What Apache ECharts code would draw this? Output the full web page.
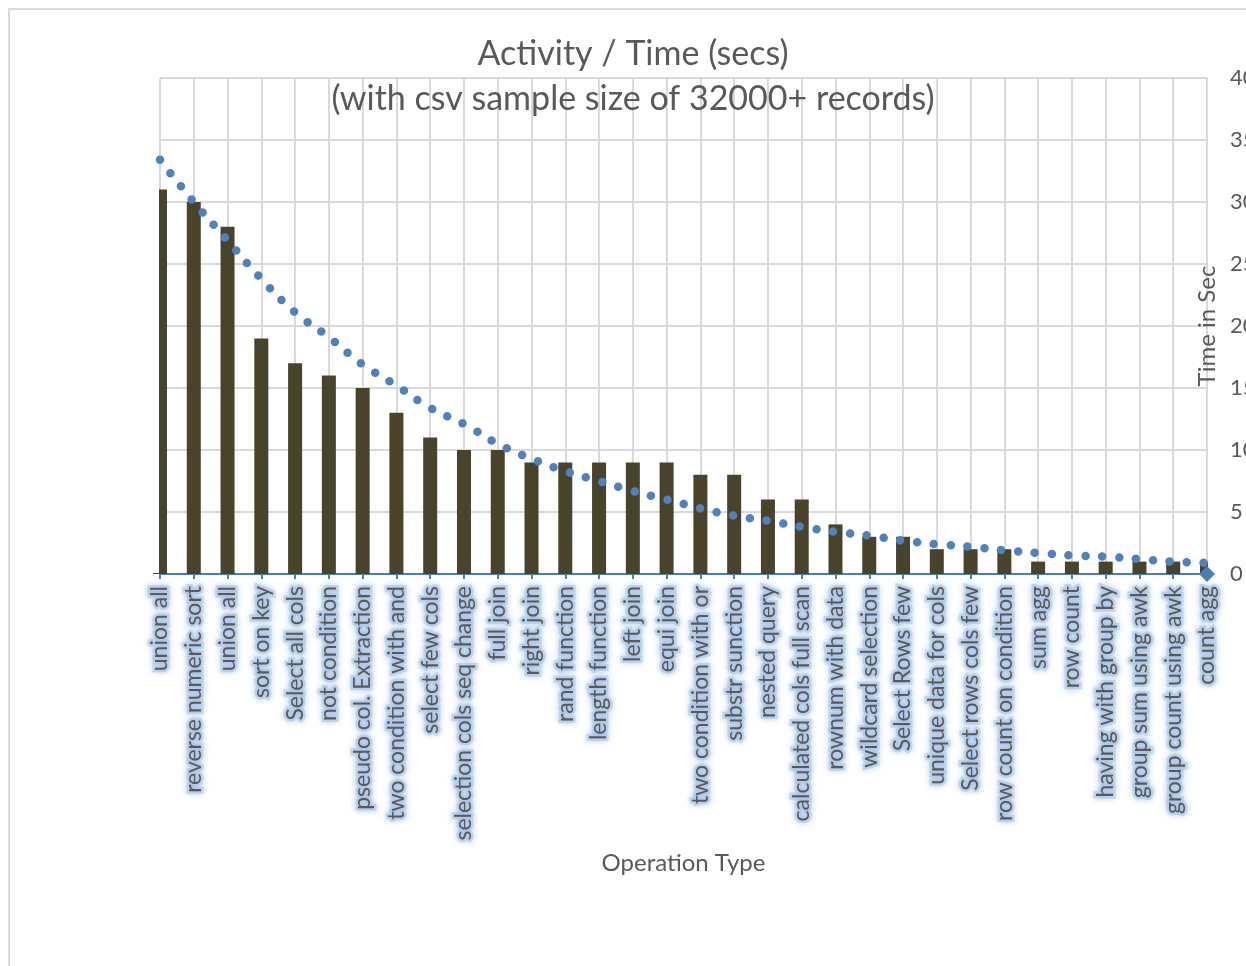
<!DOCTYPE html>
<html>
<head>
<meta charset="utf-8">
<script src="https://cdn.jsdelivr.net/npm/echarts@6/dist/echarts.min.js"></script>
<style>
html,body{margin:0;padding:0;background:#fff;}
#main{width:1246px;height:966px;}
</style>
</head>
<body>
<div id="main"></div>
<script>
const categories = ['union all','reverse numeric sort','union all','sort on key','Select all cols','not condition','pseudo col. Extraction','two condition with and','select few cols','selection cols seq change','full join','right join','rand function','length function','left join','equi join','two condition with or','substr sunction','nested query','calculated cols full scan','rownum with data','wildcard selection','Select Rows few','unique data for cols','Select rows cols few','row count on condition','sum agg','row count','having with group by','group sum using awk','group count using awk','count agg'];
const timeValues = [31,30,28,19,17,16,15,13,11,10,10,9,9,9,9,9,8,8,6,6,4,3,3,2,2,2,1,1,1,1,1,1];
const trendValues = [33.4,30.0,26.9,23.8,21.1,19.1,16.9,15.2,13.4,12.1,10.5,9.3,8.3,7.5,6.7,6.0,5.3,4.7,4.3,3.8,3.4,3.1,2.7,2.4,2.2,1.9,1.7,1.5,1.4,1.2,1.0,0.9];
const baseValues = [null,null,null,null,null,null,null,null,null,null,null,null,null,null,null,null,null,null,null,null,null,null,null,null,null,null,null,null,null,null,null,0];
const yTicks = {min:0, max:40, interval:5};

const FONT = 'Lato';
const chart = echarts.init(document.getElementById('main'), null, {renderer:'canvas'});
chart.setOption({
  animation:false,
  backgroundColor:'#ffffff',
  graphic:[
    {type:'rect',shape:{x:9,y:9,width:1300,height:1000},style:{fill:'none',stroke:'#d9d9d9',lineWidth:2},z:-10},
    {type:'rect',shape:{x:120,y:150,width:39,height:423},style:{fill:'#ffffff'},z:5},
    {type:'rect',shape:{x:1208,y:520,width:20,height:53},style:{fill:'#ffffff'},z:5}
  ],
  title:[
    {text:'Activity / Time (secs)',left:628,top:32,textAlign:'center',textStyle:{fontFamily:FONT,fontSize:34,fontWeight:'normal',color:'#595959'}},
    {text:'(with csv sample size of 32000+ records)',left:628,top:77,textAlign:'center',textStyle:{fontFamily:FONT,fontSize:34,fontWeight:'normal',color:'#595959'}}
  ],
  grid:{left:160,right:39,top:78,bottom:392,containLabel:false,outerBoundsMode:'none'},
  xAxis:{
    type:'category',data:categories,boundaryGap:false,
    name:'Operation Type',nameLocation:'middle',nameGap:273,
    nameTextStyle:{fontFamily:FONT,fontSize:24,color:'#595959'},
    axisLine:{show:true,lineStyle:{color:'#4a7ebb',width:2}},
    axisTick:{show:true,length:5,lineStyle:{color:'#4a7ebb',width:2}},
    axisLabel:{rotate:90,interval:0,margin:12,fontFamily:FONT,fontSize:23,color:'#595959',
      textBorderColor:'rgba(172,198,232,0.6)',textBorderWidth:5,
      textShadowColor:'rgba(165,193,230,1)',textShadowBlur:6},
    splitLine:{show:true,lineStyle:{color:'#d9d9d9',width:2}}
  },
  yAxis:{
    type:'value',position:'right',min:yTicks.min,max:yTicks.max,interval:yTicks.interval,
    name:'Time in Sec',nameLocation:'middle',nameGap:-12,nameRotate:90,nameMoveOverlap:false,
    nameTextStyle:{fontFamily:FONT,fontSize:24,color:'#595959'},
    axisLine:{show:false},axisTick:{show:false},
    axisLabel:{margin:23,fontFamily:FONT,fontSize:22,color:'#595959',align:'left'},
    splitLine:{show:true,lineStyle:{color:'#d9d9d9',width:2}}
  },
  series:[
    {type:'bar',data:timeValues,barWidth:14,itemStyle:{color:'#49432b'},clip:true,z:2},
    {type:'line',data:trendValues,smooth:true,showSymbol:false,symbol:'none',clip:false,z:6,
      lineStyle:{color:'#4f81bd',width:8.5,type:[0,16.9],cap:'round'}},
    {type:'line',data:baseValues,symbol:'diamond',symbolSize:16,showSymbol:true,clip:false,z:10,
      itemStyle:{color:'#4a7ebb'},lineStyle:{width:0}}
  ]
});
</script>
</body>
</html>
